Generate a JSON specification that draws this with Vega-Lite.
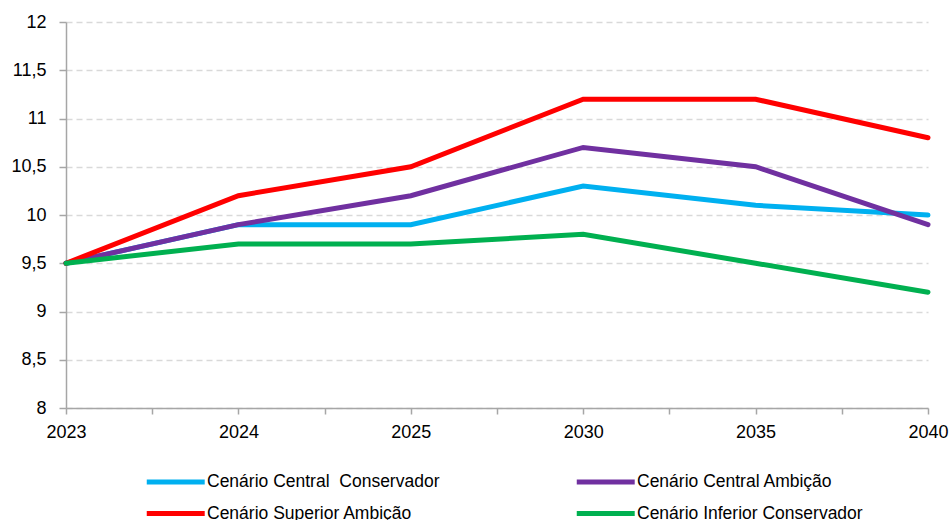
{
  "$schema": "https://vega.github.io/schema/vega-lite/v6.json",
  "autosize": {"type": "none"},
  "width": 862,
  "height": 386,
  "padding": {"left": 66, "top": 22, "right": 21, "bottom": 112},
  "background": "white",
  "config": {
    "font": "Liberation Sans",
    "view": {"stroke": null}
  },
  "data": {
    "values": [
      {"ano": "2023", "cenario": "Cenário Central  Conservador", "valor": 9.5},
      {"ano": "2024", "cenario": "Cenário Central  Conservador", "valor": 9.9},
      {"ano": "2025", "cenario": "Cenário Central  Conservador", "valor": 9.9},
      {"ano": "2030", "cenario": "Cenário Central  Conservador", "valor": 10.3},
      {"ano": "2035", "cenario": "Cenário Central  Conservador", "valor": 10.1},
      {"ano": "2040", "cenario": "Cenário Central  Conservador", "valor": 10.0},
      {"ano": "2023", "cenario": "Cenário Central Ambição", "valor": 9.5},
      {"ano": "2024", "cenario": "Cenário Central Ambição", "valor": 9.9},
      {"ano": "2025", "cenario": "Cenário Central Ambição", "valor": 10.2},
      {"ano": "2030", "cenario": "Cenário Central Ambição", "valor": 10.7},
      {"ano": "2035", "cenario": "Cenário Central Ambição", "valor": 10.5},
      {"ano": "2040", "cenario": "Cenário Central Ambição", "valor": 9.9},
      {"ano": "2023", "cenario": "Cenário Superior Ambição", "valor": 9.5},
      {"ano": "2024", "cenario": "Cenário Superior Ambição", "valor": 10.2},
      {"ano": "2025", "cenario": "Cenário Superior Ambição", "valor": 10.5},
      {"ano": "2030", "cenario": "Cenário Superior Ambição", "valor": 11.2},
      {"ano": "2035", "cenario": "Cenário Superior Ambição", "valor": 11.2},
      {"ano": "2040", "cenario": "Cenário Superior Ambição", "valor": 10.8},
      {"ano": "2023", "cenario": "Cenário Inferior Conservador", "valor": 9.5},
      {"ano": "2024", "cenario": "Cenário Inferior Conservador", "valor": 9.7},
      {"ano": "2025", "cenario": "Cenário Inferior Conservador", "valor": 9.7},
      {"ano": "2030", "cenario": "Cenário Inferior Conservador", "valor": 9.8},
      {"ano": "2035", "cenario": "Cenário Inferior Conservador", "valor": 9.5},
      {"ano": "2040", "cenario": "Cenário Inferior Conservador", "valor": 9.2}
    ]
  },
  "resolve": {"axis": {"x": "independent"}},
  "layer": [
    {
      "mark": {"type": "line", "strokeWidth": 5, "strokeCap": "round"},
      "encoding": {
        "x": {
          "field": "ano",
          "type": "ordinal",
          "sort": null,
          "scale": {"type": "point", "padding": 0},
          "axis": {
            "orient": "bottom",
            "title": null,
            "labelAngle": 0,
            "labelFontSize": 18,
            "labelColor": "#000000",
            "labelPadding": 9,
            "domainColor": "#a6a6a6",
            "domainWidth": 1.5,
            "tickColor": "#a6a6a6",
            "tickWidth": 1.5,
            "tickSize": 6,
            "grid": false
          }
        },
        "y": {
          "field": "valor",
          "type": "quantitative",
          "scale": {"domain": [8, 12], "nice": false, "zero": false},
          "axis": {
            "title": null,
            "values": [8, 8.5, 9, 9.5, 10, 10.5, 11, 11.5, 12],
            "labelExpr": "replace(format(datum.value, '.1~f'), '.', ',')",
            "labelFontSize": 18,
            "labelColor": "#000000",
            "labelPadding": 13,
            "domainColor": "#a6a6a6",
            "domainWidth": 1.5,
            "tickColor": "#a6a6a6",
            "tickWidth": 1.5,
            "tickSize": 7,
            "grid": true,
            "gridColor": "#d9d9d9",
            "gridWidth": 1.3,
            "gridDash": [6, 4]
          }
        },
        "color": {
          "field": "cenario",
          "type": "nominal",
          "scale": {
            "domain": [
              "Cenário Central  Conservador",
              "Cenário Central Ambição",
              "Cenário Superior Ambição",
              "Cenário Inferior Conservador"
            ],
            "range": ["#00b0f0", "#7030a0", "#ff0000", "#00b050"]
          },
          "legend": {
            "title": null,
            "orient": "none",
            "legendX": 78,
            "legendY": 450,
            "direction": "horizontal",
            "columns": 2,
            "columnPadding": 126,
            "rowPadding": 11.5,
            "symbolType": "M-1,0H7",
            "symbolSize": 210,
            "symbolStrokeWidth": 5,
            "labelFontSize": 17.5,
            "labelColor": "#000000",
            "labelOffset": 43,
            "labelLimit": 400,
            "labelExpr": "replace(datum.label, '  ', '\u00a0 ')"
          }
        }
      }
    },
    {
      "description": "Half-step tick marks between the year categories",
      "mark": {"type": "point", "opacity": 0},
      "encoding": {
        "x": {
          "field": "ano",
          "type": "ordinal",
          "sort": null,
          "axis": {
            "orient": "bottom",
            "title": null,
            "labels": false,
            "domain": false,
            "grid": false,
            "tickOffset": 86.2,
            "tickColor": "#a6a6a6",
            "tickWidth": 1.5,
            "tickSize": 6
          }
        }
      }
    }
  ]
}
